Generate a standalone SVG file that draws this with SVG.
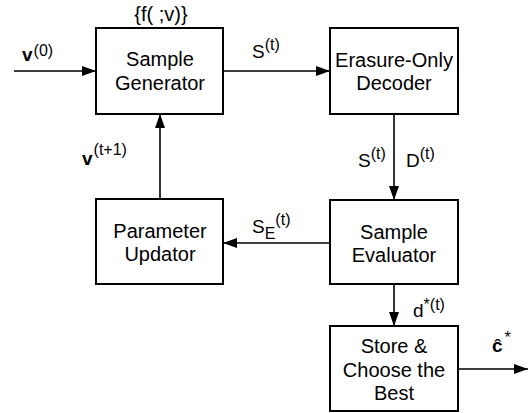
<svg xmlns="http://www.w3.org/2000/svg" width="530" height="413" viewBox="0 0 530 413">
<defs>
<marker id="ah" markerWidth="14" markerHeight="10" refX="14" refY="5" orient="auto" markerUnits="userSpaceOnUse">
<path d="M0,0 L14,5 L0,10 Z" fill="#000"/>
</marker>
<style>
.box{fill:#fff;stroke:#000;stroke-width:2}
.t{font-family:"Liberation Sans",Arial,sans-serif;font-size:20px;fill:#000;text-anchor:middle}
.l{font-family:"Liberation Sans",Arial,sans-serif;font-size:19px;fill:#000}
.sup{font-size:16px;font-weight:normal}
.c{stroke:#000;stroke-width:1.6;fill:none}
</style>
</defs>
<rect width="530" height="413" fill="#fff"/>
<g id="connectors">
<line class="c" x1="14" y1="71" x2="96" y2="71" marker-end="url(#ah)"/>
<line class="c" x1="223" y1="71" x2="330" y2="71" marker-end="url(#ah)"/>
<line class="c" x1="394" y1="114" x2="394" y2="200" marker-end="url(#ah)"/>
<line class="c" x1="330" y1="243" x2="223" y2="243" marker-end="url(#ah)"/>
<line class="c" x1="160" y1="199" x2="160" y2="114" marker-end="url(#ah)"/>
<line class="c" x1="394" y1="284" x2="394" y2="326" marker-end="url(#ah)"/>
<line class="c" x1="458" y1="369" x2="528" y2="369" marker-end="url(#ah)"/>
<text class="l" x="22" y="61" font-weight="bold" font-size="21">v<tspan class="sup" font-size="17" dx="1" dy="-5">(0)</tspan></text>
<text class="l" x="252" y="58">S<tspan class="sup" dy="-8">(t)</tspan></text>
<text class="l" x="358" y="167">S<tspan class="sup" dy="-8">(t)</tspan></text>
<text class="l" x="406" y="167">D<tspan class="sup" dy="-8">(t)</tspan></text>
<text class="l" x="82" y="165" font-weight="bold" font-size="21">v<tspan class="sup" dx="1" dy="-10">(t+1)</tspan></text>
<text class="l" x="252" y="233">S<tspan class="sup" dy="6">E</tspan><tspan class="sup" dy="-14">(t)</tspan></text>
<text class="l" x="413" y="317">d<tspan class="sup" font-size="15" dy="-7">*(t)</tspan></text>
<text class="l" x="492" y="352" font-weight="bold">ĉ<tspan class="sup" font-size="12" dx="2" dy="-9">*</tspan></text>
</g>
<g id="sample-generator">
<rect class="box" x="96" y="28" width="127" height="86"/>
<text class="t" x="160" y="66">Sample</text>
<text class="t" x="160" y="90">Generator</text>
<text class="t" x="161" y="21" font-size="17">{f( ;v)}</text>
</g>
<g id="erasure-decoder">
<rect class="box" x="330" y="28" width="128" height="86"/>
<text class="t" x="394" y="67">Erasure-Only</text>
<text class="t" x="394" y="90">Decoder</text>
</g>
<g id="parameter-updator">
<rect class="box" x="96" y="199" width="127" height="85"/>
<text class="t" x="160" y="238">Parameter</text>
<text class="t" x="160" y="261">Updator</text>
</g>
<g id="sample-evaluator">
<rect class="box" x="330" y="200" width="128" height="84"/>
<text class="t" x="394" y="239">Sample</text>
<text class="t" x="394" y="262">Evaluator</text>
</g>
<g id="store-choose">
<rect class="box" x="330" y="326" width="128" height="85"/>
<text class="t" x="394" y="353">Store &amp;</text>
<text class="t" x="394" y="377">Choose the</text>
<text class="t" x="394" y="400">Best</text>
</g>
</svg>
